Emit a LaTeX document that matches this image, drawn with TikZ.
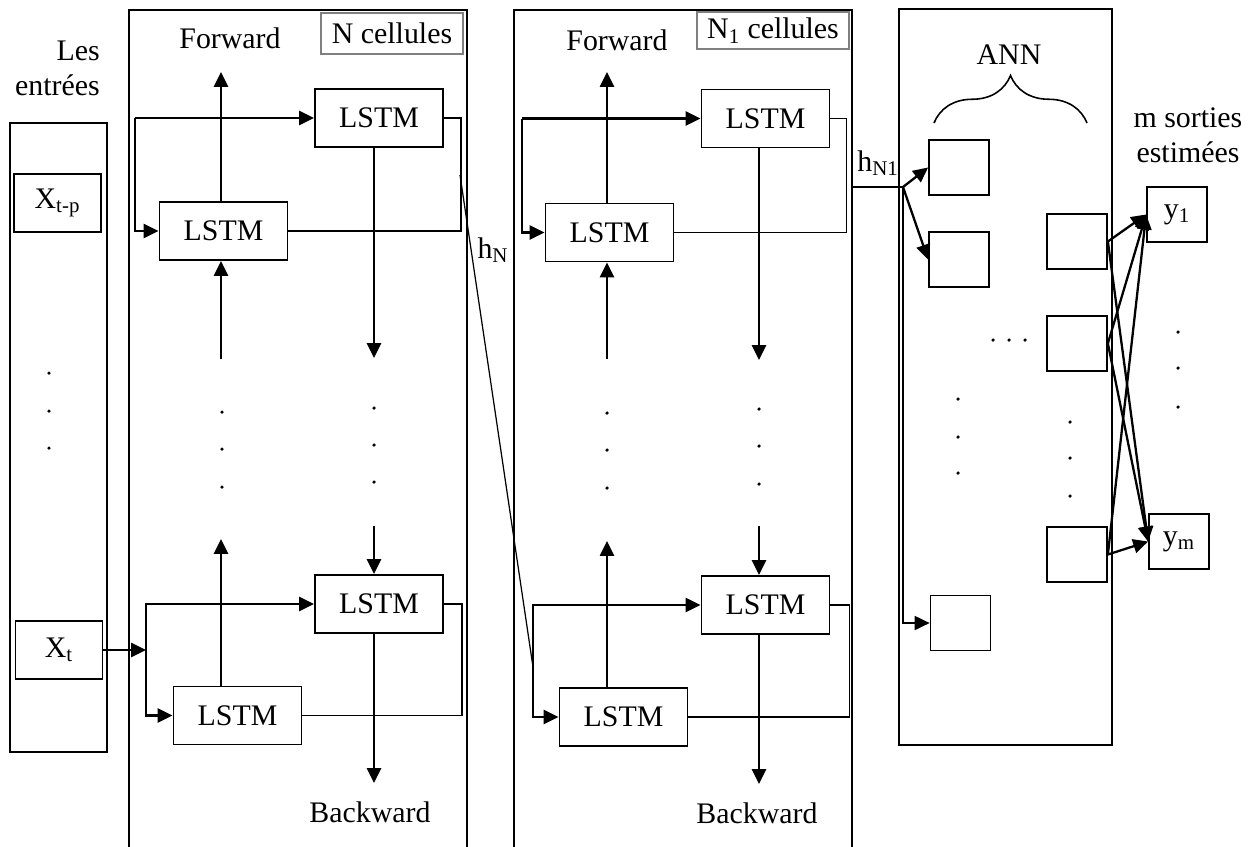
\documentclass[tikz,border=0pt]{standalone}
\usepackage{fontspec}
\setmainfont{Liberation Serif}
\usetikzlibrary{arrows.meta, positioning, decorations.pathreplacing}

\begin{document}
\begin{tikzpicture}[
    x=0.02cm, y=-0.02cm,
    font=\fontsize{17}{20}\selectfont,
    lstm/.style={draw, line width=1.1pt, minimum width=2.56cm, minimum height=1.16cm, inner sep=0pt},
    neuron/.style={draw, line width=1pt, minimum width=1.2cm, minimum height=1.1cm, inner sep=0pt},
    inbox/.style={draw, line width=1pt, minimum width=1.74cm, minimum height=1.16cm, inner sep=0pt},
    tag/.style={draw=gray, line width=0.7pt, inner sep=0pt},
    panel/.style={draw, line width=1.1pt},
    arr/.style={-{Triangle[length=8.5pt,width=8pt]}, line width=1.3pt},
    back/.style={draw, line width=0.9pt},
    thinl/.style={draw, line width=0.7pt},
    annbrace/.style={decorate, decoration={brace, amplitude=0.95cm, aspect=0.5}, line width=0.9pt}
]
\useasboundingbox (0,0) rectangle (1255,846);

% Les entrees
\node[align=right, anchor=east] (lbl) at (106,68) {Les\\entrées};
\draw[panel] (10,123) rectangle (107,752);
\node[inbox] (xtp) at (57.5,203) {X\textsubscript{t-p}};
\node[inbox] (xt) at (59,650) {X\textsubscript{t}};

% First bidirectional layer (N cellules)
\draw[panel] (129,847) |- (467,10) -- (467,847);
\node (fw1) at (230,38) {Forward};
\node[tag, minimum width=2.84cm, minimum height=0.82cm] (nc1) at (392,33.5) {N cellules};
\node[lstm] (f1a) at (379,118) {LSTM};
\node[lstm] (f1b) at (223.5,231) {LSTM};
\node[lstm] (b1a) at (379,604) {LSTM};
\node[lstm] (b1b) at (237.5,715.5) {LSTM};
\node (bw1) at (370,812) {Backward};

\coordinate (s1) at (135,118);
\coordinate (s2) at (146,650);
\coordinate (fup1) at (221,72);
\coordinate (fgapA1) at (221,359);
\coordinate (bgapA1) at (374,358);
\coordinate (fgapB1) at (221,539);
\coordinate (bgapB1) at (374,526);
\coordinate (bdown1) at (374,783);

\draw[arr] (s1) -- (f1a.west);
\draw[arr] (s1) |- (f1b.west);
\draw[back] (f1a.east) -- ++(17,0) |- (f1b.east);
\draw[arr] (f1b.north -| fup1) -- (fup1);
\draw[arr] (fgapA1) -- (f1b.south -| fgapA1);
\draw[arr] (f1a.south -| bgapA1) -- (bgapA1);

\draw[arr] (xt.east) -- (s2);
\draw[arr] (s2) |- (b1a.west);
\draw[arr] (s2) |- (b1b.west);
\draw[back] (b1a.east) -- ++(18,0) |- (b1b.east);
\draw[arr] (b1b.north -| fgapB1) -- (fgapB1);
\draw[arr] (bgapB1) -- (b1a.north -| bgapB1);
\draw[arr] (b1a.south -| bdown1) -- (bdown1);

% h_N towards the second layer
\coordinate (hn) at (460,175);
\coordinate (j2) at (533,667);
\draw[thinl] (hn) -- (j2);
\node (hnl) at (493,250) {h\textsubscript{N}};

% Second bidirectional layer (N1 cellules)
\draw[panel] (514,847) |- (852,10) -- (852,847);
\node (fw2) at (617,40) {Forward};
\node[tag, minimum width=3.04cm, minimum height=0.74cm] (nc2) at (773,30.5) {N\textsubscript{1} cellules};
\node[lstm] (f2a) at (765.5,118.5) {LSTM};
\node[lstm] (f2b) at (609.5,232.5) {LSTM};
\node[lstm] (b2a) at (765.5,605) {LSTM};
\node[lstm] (b2b) at (623.5,717) {LSTM};
\node (bw2) at (757,813) {Backward};

\coordinate (s3) at (522,118.5);
\coordinate (fup2) at (607,72);
\coordinate (fgapA2) at (607,359);
\coordinate (bgapA2) at (759,360);
\coordinate (fgapB2) at (607,541);
\coordinate (bgapB2) at (759,526);
\coordinate (bdown2) at (759,784);

\draw[arr] (s3) -- (f2a.west);
\draw[arr] (s3) |- (f2b.west);
\draw[back] (f2a.east) -- ++(16,0) |- (f2b.east);
\draw[arr] (f2b.north -| fup2) -- (fup2);
\draw[arr] (fgapA2) -- (f2b.south -| fgapA2);
\draw[arr] (f2a.south -| bgapA2) -- (bgapA2);

\draw[arr] (j2) |- (b2a.west);
\draw[arr] (j2) |- (b2b.west);
\draw[back] (b2a.east) -- ++(19,0) |- (b2b.east);
\draw[arr] (b2b.north -| fgapB2) -- (fgapB2);
\draw[arr] (bgapB2) -- (b2a.north -| bgapB2);
\draw[arr] (b2a.south -| bdown2) -- (bdown2);

% h_N1 towards the ANN
\coordinate (o2) at (852,187);
\coordinate (h1) at (903,187);
\draw[line width=1.1pt] (o2) -- (h1);
\node (hn1l) at (878,163) {h\textsubscript{N1}};

% ANN
\draw[panel] (899,9) rectangle (1112,745);
\node (ann) at (1009,55) {ANN};
\draw[annbrace] (934,123) -- (1087,123);
\node[neuron] (a1) at (959,167.5) {};
\node[neuron] (a2) at (959,259.5) {};
\node[neuron] (a3) at (960.5,623) {};
\node[neuron] (r1) at (1077,241.5) {};
\node[neuron] (r2) at (1077,343.5) {};
\node[neuron] (r3) at (1077,554.5) {};

\draw[arr] (h1) -- (a1.west);
\draw[arr] (h1) -- (a2.west);
\draw[arr, line width=0.9pt] (h1) |- (a3.west);

% Outputs
\node[align=center] (outl) at (1188,135.5) {m sorties\\estimées};
\node[neuron] (y1) at (1177,214.5) {y\textsubscript{1}};
\node[neuron] (ym) at (1179,541.5) {y\textsubscript{m}};

\draw[arr] (r1.east) -- (y1.west);
\draw[arr] (r1.east) -- (ym.west);
\draw[arr] (r2.east) -- (y1.west);
\draw[arr] (r2.east) -- (ym.west);
\draw[arr] (r3.east) -- (y1.west);
\draw[arr] (r3.east) -- (ym.west);

% dots
\foreach \x/\y in {49/373, 49/411, 49/448, 222/412, 222/449, 222/487,
    374/408, 374/445, 374/482, 607/413, 607/450, 607/488,
    759/409, 759/446, 759/484, 958/399, 958/437, 958/473,
    1070/422, 1070/458, 1070/496, 993/340, 1009/340, 1025/340,
    1178/332, 1178/368, 1178/407}
  \fill (\x,\y) circle (1pt);
\end{tikzpicture}
\end{document}
